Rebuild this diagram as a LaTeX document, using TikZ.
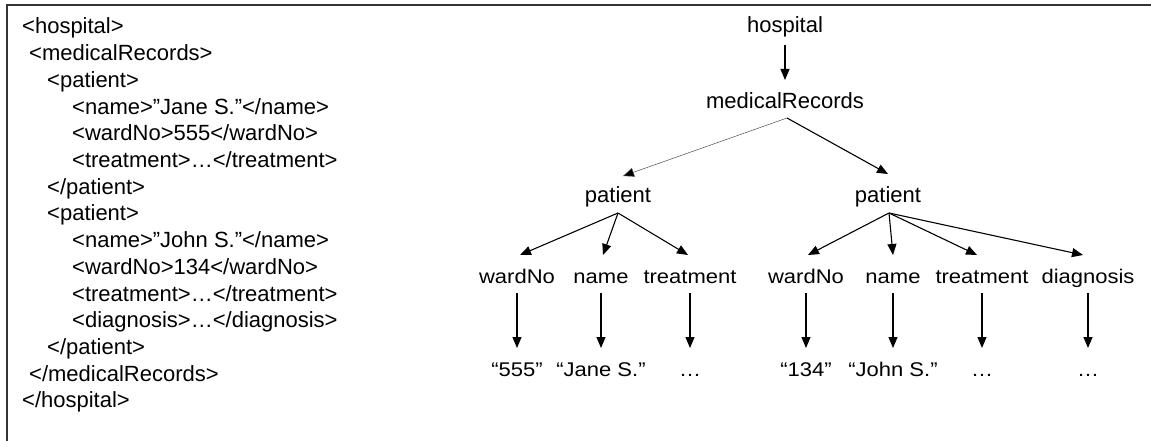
\documentclass[tikz,border=0pt]{standalone}
\usepackage{fontspec}
\setmainfont{Liberation Sans}
\usetikzlibrary{arrows.meta}
\newcommand\sqz[1]{\scalebox{1}[0.9]{#1}}
\tikzset{
  txt/.style={inner sep=0pt, anchor=base west, font=\fontsize{22}{26}\selectfont},
  lbl/.style={inner sep=0pt, anchor=base, font=\fontsize{22}{26}\selectfont},
  arr/.style={line width=1.1pt, -{Triangle[length=11pt,width=9pt]}},
  thinarr/.style={line width=0.5pt, draw=black!70, -{Triangle[length=11pt,width=9pt,fill=black]}},
}
\begin{document}
\begin{tikzpicture}[x=1pt,y=-1pt]
\useasboundingbox (0,0) rectangle (1151,441);
\draw[line width=1.4pt, black!80] (7,441) -- (7,5) -- (1151,5);
% XML text
\node[txt] (l0) at (22,34) {<hospital>};
\node[txt] (l1) at (29,60.7) {<medicalRecords>};
\node[txt] (l2) at (47,87.4) {<patient>};
\node[txt] (l3) at (72,114.1) {<name>”Jane S.”</name>};
\node[txt] (l4) at (72,140.8) {<wardNo>555</wardNo>};
\node[txt] (l5) at (72,167.5) {<treatment>…</treatment>};
\node[txt] (l6) at (47,194.2) {</patient>};
\node[txt] (l7) at (47,220.9) {<patient>};
\node[txt] (l8) at (72,247.6) {<name>”John S.”</name>};
\node[txt] (l9) at (72,274.3) {<wardNo>134</wardNo>};
\node[txt] (l10) at (72,301) {<treatment>…</treatment>};
\node[txt] (l11) at (72,327.7) {<diagnosis>…</diagnosis>};
\node[txt] (l12) at (47,354.4) {</patient>};
\node[txt] (l13) at (29,381.1) {</medicalRecords>};
\node[txt] (l14) at (22,407.8) {</hospital>};
% tree
\node[lbl] (hosp) at (785,33) {hospital};
\node[lbl] (mr) at (785,109) {medicalRecords};
\node[lbl] (pL) at (618,202) {patient};
\node[lbl] (pR) at (888,202) {patient};
\node[lbl] (wL) at (517,283) {\sqz{wardNo}};
\node[lbl] (nL) at (601,283) {\sqz{name}};
\node[lbl] (tL) at (690,283) {\sqz{treatment}};
\node[lbl] (wR) at (806,283) {\sqz{wardNo}};
\node[lbl] (nR) at (893,283) {\sqz{name}};
\node[lbl] (tR) at (982,283) {\sqz{treatment}};
\node[lbl] (dR) at (1088,283) {\sqz{diagnosis}};
\node[lbl] (vwL) at (517,376) {\sqz{“555”}};
\node[lbl] (vnL) at (601,376) {\sqz{“Jane S.”}};
\node[lbl] (vtL) at (690,376) {\sqz{…}};
\node[lbl] (vwR) at (806,376) {\sqz{“134”}};
\node[lbl] (vnR) at (893,376) {\sqz{“John S.”}};
\node[lbl] (vtR) at (982,376) {\sqz{…}};
\node[lbl] (vdR) at (1088,376) {\sqz{…}};
% connectors
\draw[arr] ([yshift=-12pt]hosp.base) -- ([yshift=29pt]mr.base);
\draw[thinarr] ([xshift=2pt,yshift=-9pt]mr.base) -- ([xshift=5pt,yshift=26pt]pL.base);
\draw[arr] ([xshift=2pt,yshift=-9pt]mr.base) -- ([yshift=28pt]pR.base);
\draw[arr] ([yshift=-11pt]pL.base) -- ([xshift=3pt,yshift=28pt]wL.base);
\draw[arr] ([yshift=-11pt]pL.base) -- ([xshift=2pt,yshift=28pt]nL.base);
\draw[arr] ([yshift=-11pt]pL.base) -- ([xshift=-2pt,yshift=28pt]tL.base);
\draw[arr] ([xshift=1pt,yshift=-11pt]pR.base) -- ([xshift=2pt,yshift=28pt]wR.base);
\draw[arr] ([xshift=1pt,yshift=-11pt]pR.base) -- ([yshift=28pt]nR.base);
\draw[arr] ([xshift=1pt,yshift=-11pt]pR.base) -- ([xshift=-5pt,yshift=28pt]tR.base);
\draw[arr] ([xshift=1pt,yshift=-11pt]pR.base) -- ([xshift=-5pt,yshift=28pt]dR.base);
\foreach \a/\b in {wL/vwL,nL/vnL,tL/vtL,wR/vwR,nR/vnR,tR/vtR,dR/vdR}
  \draw[arr] ([yshift=-10pt]\a.base) -- ([yshift=28pt]\b.base);
\end{tikzpicture}
\end{document}
